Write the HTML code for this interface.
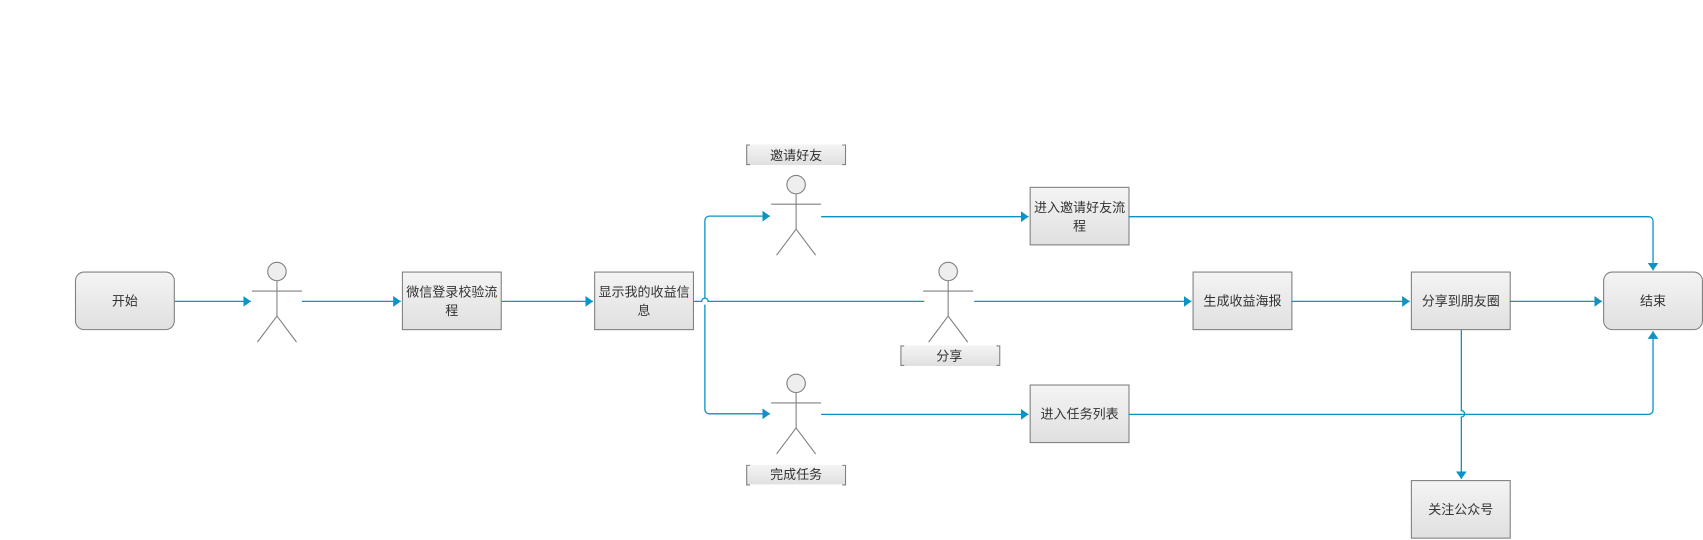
<!DOCTYPE html>
<html><head><meta charset="utf-8"><style>
html,body{margin:0;padding:0;background:#fff;width:1703px;height:540px;overflow:hidden}
text{font-family:"Liberation Sans","Noto Sans CJK SC",sans-serif;font-size:12px;fill:#333;text-anchor:middle;dominant-baseline:central}
</style></head><body>
<svg width="1703" height="540" viewBox="0 0 1568 497.2" xmlns="http://www.w3.org/2000/svg">
<defs>
<linearGradient id="g" x1="0" y1="0" x2="0" y2="1"><stop offset="0" stop-color="#f4f4f4"/><stop offset="1" stop-color="#e0e0e0"/></linearGradient>
<marker id="a" markerWidth="8" markerHeight="10" refX="7" refY="5" orient="auto" markerUnits="userSpaceOnUse"><path d="M0,0 L7,5 L0,10 Z" fill="#0a93c6"/></marker>
<g id="actor" fill="none" stroke="#808080" stroke-width="1">
<circle cx="0" cy="0" r="8.5" fill="#eeeeee"/><line x1="0" y1="8.5" x2="0" y2="41"/><line x1="-23" y1="18" x2="23" y2="18"/><line x1="0" y1="41" x2="-18" y2="65"/><line x1="0" y1="41" x2="18" y2="65"/>
</g>
</defs>
<g stroke="#808080" stroke-width="1" fill="url(#g)">
<rect x="69.5" y="250.5" width="91" height="53" rx="8"/>
<rect x="370.5" y="250.5" width="91" height="53"/>
<rect x="547.5" y="250.5" width="91" height="53"/>
<rect x="948.5" y="172.5" width="91" height="53"/>
<rect x="948.5" y="354.5" width="91" height="53"/>
<rect x="1098.5" y="250.5" width="91" height="53"/>
<rect x="1299.5" y="250.5" width="91" height="53"/>
<rect x="1476.5" y="250.5" width="91" height="53" rx="8"/>
<rect x="1299.5" y="442.5" width="91" height="53"/>
</g>
<g fill="url(#g)"><rect x="687" y="133" width="91" height="19"/><rect x="829" y="318" width="91" height="19"/><rect x="687" y="428" width="91" height="18"/></g>
<g fill="none" stroke="#808080" stroke-width="1">
<path d="M690.5,133.5 h-3 v18 h3 M775.5,133.5 h3 v18 h-3"/>
<path d="M832.5,318.5 h-3 v18 h3 M917.5,318.5 h3 v18 h-3"/>
<path d="M690.5,428.5 h-3 v18 h3 M775.5,428.5 h3 v18 h-3"/>
</g>
<use href="#actor" x="255" y="250"/>
<use href="#actor" x="733" y="170"/>
<use href="#actor" x="873" y="250"/>
<use href="#actor" x="733" y="353"/>
<g fill="none" stroke="#0a93c6" stroke-width="1.2">
<path d="M161,277.5 H231" marker-end="url(#a)"/>
<path d="M278,277.5 H369" marker-end="url(#a)"/>
<path d="M462,277.5 H546" marker-end="url(#a)"/>
<path d="M639,277.5 H646 a3,3 0 0 1 6,0 H851"/>
<path d="M649,274.5 V203 a4,4 0 0 1 4,-4 H709" marker-end="url(#a)"/>
<path d="M649,280.5 V377 a4,4 0 0 0 4,4 H709" marker-end="url(#a)"/>
<path d="M756,199.5 H947" marker-end="url(#a)"/>
<path d="M1039,199.5 H1518 a4,4 0 0 1 4,4 V249" marker-end="url(#a)"/>
<path d="M897,277.5 H1097" marker-end="url(#a)"/>
<path d="M1189,277.5 H1298" marker-end="url(#a)"/>
<path d="M1390,277.5 H1475" marker-end="url(#a)"/>
<path d="M1345.5,304 V378 a3,3 0 0 1 0,6 V441" marker-end="url(#a)"/>
<path d="M756,381.5 H947" marker-end="url(#a)"/>
<path d="M1039,381.5 H1518 a4,4 0 0 0 4,-4 V305" marker-end="url(#a)"/>
</g>
<text x="115" y="277">开始</text>
<text x="416" y="269">微信登录校验流</text><text x="416" y="286">程</text>
<text x="593" y="269">显示我的收益信</text><text x="593" y="286">息</text>
<text x="733" y="143">邀请好友</text>
<text x="874" y="328">分享</text>
<text x="733" y="437">完成任务</text>
<text x="994" y="191">进入邀请好友流</text><text x="994" y="208">程</text>
<text x="994" y="381">进入任务列表</text>
<text x="1144" y="277">生成收益海报</text>
<text x="1345" y="277">分享到朋友圈</text>
<text x="1522" y="277">结束</text>
<text x="1345" y="469">关注公众号</text>
</svg>
</body></html>
